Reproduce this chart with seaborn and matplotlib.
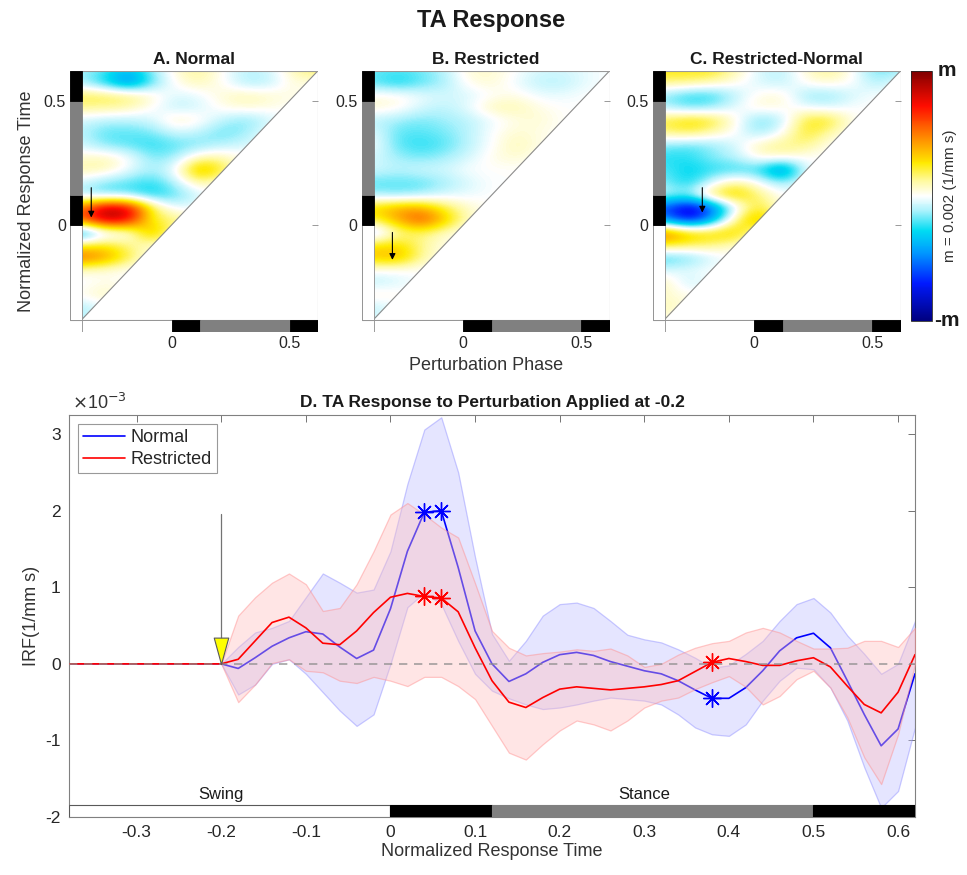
import numpy as np
import pandas as pd
import matplotlib
matplotlib.use("Agg")
import matplotlib.pyplot as plt
import seaborn as sns
from matplotlib.colors import LinearSegmentedColormap
from matplotlib.patches import Rectangle, Polygon
from matplotlib.path import Path
from matplotlib.markers import MarkerStyle
from matplotlib.lines import Line2D

# ---------------------------------------------------------------- data
TIME_START, TIME_END, TIME_STEP = -0.38, 0.62, 0.02
time = np.round(TIME_START + TIME_STEP * np.arange(51), 2)
PERTURBATION = -0.2
PRE = [0.0] * 10   # -0.38 ... -0.20 (before perturbation)

# IRF values in units of 1e-3 (1/mm s), from -0.18 to 0.62
normal_mean = PRE + [-0.06, 0.08, 0.23, 0.34, 0.42, 0.39, 0.22, 0.07, 0.18, 0.72,
                     1.47, 1.98, 2.00, 1.26, 0.43, 0.00, -0.23, -0.13, 0.02, 0.12,
                     0.15, 0.11, 0.03, -0.03, -0.09, -0.13, -0.22, -0.34, -0.45, -0.45,
                     -0.31, -0.09, 0.17, 0.34, 0.40, 0.21, -0.22, -0.66, -1.07, -0.85,
                     -0.13]
normal_upper = PRE + [0.22, 0.41, 0.47, 0.56, 0.87, 1.18, 1.06, 0.93, 0.97, 1.47,
                      2.35, 3.06, 3.22, 2.50, 1.39, 0.39, 0.04, 0.30, 0.63, 0.78,
                      0.80, 0.73, 0.56, 0.38, 0.32, 0.28, 0.19, 0.08, -0.05, -0.02,
                      0.13, 0.30, 0.56, 0.78, 0.86, 0.67, 0.37, 0.13, -0.13, 0.00,
                      0.56]
normal_lower = PRE + [-0.40, -0.27, 0.00, 0.06, -0.13, -0.37, -0.61, -0.81, -0.66, 0.00,
                      0.74, 0.93, 0.78, 0.30, -0.13, -0.35, -0.45, -0.53, -0.59, -0.57,
                      -0.53, -0.48, -0.44, -0.46, -0.48, -0.53, -0.66, -0.83, -0.92, -0.94,
                      -0.79, -0.48, -0.22, -0.05, -0.07, -0.31, -0.74, -1.35, -1.88, -1.66,
                      -0.83]
restricted_mean = PRE + [0.06, 0.30, 0.54, 0.61, 0.47, 0.27, 0.25, 0.43, 0.67, 0.87,
                         0.92, 0.88, 0.86, 0.68, 0.21, -0.22, -0.50, -0.57, -0.44, -0.33,
                         -0.30, -0.32, -0.34, -0.32, -0.30, -0.27, -0.22, -0.10, 0.02, 0.07,
                         0.03, -0.02, -0.02, 0.04, 0.08, -0.04, -0.29, -0.53, -0.64, -0.37,
                         0.12]
restricted_upper = PRE + [0.63, 0.87, 1.06, 1.18, 1.04, 0.69, 0.73, 1.04, 1.47, 1.95,
                          2.10, 1.95, 1.78, 1.65, 1.05, 0.43, 0.21, 0.11, 0.14, 0.16,
                          0.19, 0.17, 0.20, 0.11, -0.04, 0.00, 0.12, 0.21, 0.27, 0.30,
                          0.41, 0.47, 0.41, 0.30, 0.20, 0.20, 0.21, 0.30, 0.30, 0.22,
                          0.47]
restricted_lower = PRE + [-0.50, -0.27, 0.01, 0.06, -0.09, -0.11, -0.22, -0.25, -0.17, -0.22,
                          -0.29, -0.17, -0.17, -0.29, -0.46, -0.81, -1.16, -1.25, -1.05, -0.87,
                          -0.74, -0.79, -0.87, -0.74, -0.57, -0.48, -0.44, -0.33, -0.24, -0.16,
                          -0.30, -0.53, -0.42, -0.20, -0.09, -0.31, -0.70, -1.22, -1.57, -0.92,
                          0.00]
sig_times = [0.04, 0.06, 0.38]

conditions = ["Normal", "Restricted"]
cond_colors = {"Normal": (0.0, 0.0, 1.0), "Restricted": (1.0, 0.0, 0.0)}
band_face = {"Normal": (0.75, 0.75, 1.0), "Restricted": (1.0, 0.75, 0.75)}
band_edge = {"Normal": (0.55, 0.55, 1.0), "Restricted": (1.0, 0.55, 0.55)}

# gait phases (swing / stance)
phase_edges = [-0.38, 0.0, 0.12, 0.5, 0.62]
phase_colors = ["white", "black", "#808080", "black"]

x_ticks_D = [-0.3, -0.2, -0.1, 0.0, 0.1, 0.2, 0.3, 0.4, 0.5, 0.6]
x_ticklabels_D = ["-0.3", "-0.2", "-0.1", "0", "0.1", "0.2", "0.3", "0.4", "0.5", "0.6"]
y_ticks_D = [-2, -1, 0, 1, 2, 3]
y_ticklabels_D = ["-2", "-1", "0", "1", "2", "3"]

# heat-map grids (units of m = 0.002), columns = perturbation phase, rows = response time
heat_x = [-0.38, -0.28, -0.18, -0.08, 0.02, 0.12, 0.22, 0.32, 0.42, 0.52, 0.62]
heat_y = [0.62, 0.57, 0.52, 0.47, 0.42, 0.37, 0.32, 0.27, 0.22, 0.17, 0.12,
          0.07, 0.02, -0.03, -0.08, -0.13, -0.18, -0.23, -0.28, -0.33, -0.38]

grid_normal = [
    [-0.10, -0.20, -0.35, -0.13, 0.06, 0.13, 0.00, -0.10, -0.06, 0.10, 0.20],
    [-0.13, -0.30, -0.55, -0.20, 0.03, 0.10, 0.00, -0.13, -0.10, 0.06],
    [0.20, 0.20, 0.17, 0.06, -0.06, -0.03, 0.06, 0.10, 0.06, 0.03],
    [0.13, 0.13, 0.10, 0.00, -0.10, -0.06, 0.03, 0.06, 0.03],
    [-0.06, -0.10, -0.10, -0.06, 0.10, 0.03, -0.10, -0.17, -0.06],
    [-0.10, -0.20, -0.20, -0.17, -0.06, -0.10, -0.20, -0.13],
    [-0.06, -0.17, -0.20, -0.25, -0.20, -0.17, -0.10, -0.06],
    [0.06, 0.10, 0.00, -0.17, -0.13, 0.10, 0.10],
    [0.10, 0.10, -0.03, -0.13, 0.00, 0.45, 0.20],
    [-0.06, -0.17, -0.20, -0.25, -0.10, 0.13],
    [-0.13, -0.20, -0.20, -0.30, -0.20, -0.06],
    [0.50, 0.90, 0.83, 0.20, -0.06],
    [0.55, 0.90, 0.78, 0.17, 0.20],
    [-0.45, -0.10, -0.03, 0.45],
    [0.20, 0.25, 0.13, 0.06],
    [0.55, 0.45, 0.20],
    [0.06, 0.03, 0.00],
    [-0.03, 0.03],
    [0.03, 0.10],
    [-0.13, -0.03],
    [-0.10],
]
grid_restricted = [
    [-0.17, -0.20, -0.17, -0.10, 0.06, 0.06, 0.00, -0.06, -0.06, -0.03, 0.00],
    [-0.20, -0.30, -0.20, -0.13, 0.03, 0.06, -0.03, -0.10, -0.10, -0.03],
    [0.03, 0.03, -0.03, -0.06, -0.06, 0.00, 0.03, -0.03, -0.03, 0.00],
    [0.06, 0.03, -0.06, -0.10, -0.03, 0.10, 0.10, 0.03, 0.00],
    [-0.10, -0.13, -0.17, -0.13, -0.10, -0.03, 0.03, 0.06, 0.00],
    [-0.03, -0.20, -0.20, -0.17, -0.10, 0.00, 0.06, 0.03],
    [0.00, -0.20, -0.25, -0.20, -0.10, 0.00, 0.10, 0.03],
    [-0.06, -0.13, -0.17, -0.13, -0.06, 0.03, 0.06],
    [-0.06, -0.10, -0.06, -0.06, 0.00, 0.00, 0.00],
    [-0.20, -0.20, -0.20, -0.13, -0.06, 0.00],
    [-0.13, -0.17, -0.13, -0.06, -0.03, 0.00],
    [0.30, 0.40, 0.40, 0.20, 0.06],
    [0.20, 0.40, 0.62, 0.35, 0.06],
    [-0.20, 0.10, 0.17, 0.06],
    [0.25, 0.30, 0.13, 0.03],
    [0.35, 0.40, 0.13],
    [0.00, 0.00, 0.00],
    [-0.10, -0.06],
    [0.06, 0.03],
    [-0.10, -0.03],
    [-0.06],
]
grid_difference = [
    [0.25, 0.25, 0.25, 0.10, -0.06, -0.10, 0.06, 0.15, 0.00, -0.20, -0.13],
    [0.15, 0.15, 0.10, 0.03, -0.06, -0.10, 0.03, 0.06, 0.00, -0.13],
    [-0.15, -0.25, -0.25, -0.10, 0.03, 0.06, -0.15, -0.15, -0.06, 0.00],
    [-0.10, -0.20, -0.15, -0.03, 0.06, 0.03, -0.03, -0.06, 0.00],
    [0.20, 0.30, 0.25, 0.03, -0.20, -0.10, 0.25, 0.25, 0.00],
    [0.15, 0.20, 0.10, 0.00, -0.15, 0.00, 0.25, 0.10],
    [-0.15, -0.20, -0.15, -0.06, 0.10, 0.15, 0.15, 0.00],
    [-0.25, -0.25, -0.15, -0.10, 0.06, 0.06, 0.00],
    [-0.20, -0.30, -0.25, -0.25, -0.25, -0.60, 0.00],
    [-0.15, -0.30, -0.06, 0.15, 0.00, -0.15],
    [-0.06, -0.15, 0.25, 0.35, 0.15, 0.00],
    [-0.60, -0.88, -0.60, -0.06, 0.25],
    [-0.45, -0.80, -0.45, 0.15, 0.45],
    [0.55, 0.35, 0.30, 0.35],
    [0.25, 0.20, 0.15, 0.06],
    [-0.25, -0.20, -0.06],
    [-0.06, -0.03, 0.00],
    [0.10, -0.10],
    [0.06, 0.03],
    [0.10, 0.03],
    [0.03],
]
heat_titles = ["A. Normal", "B. Restricted", "C. Restricted-Normal"]
heat_arrows = [(-0.34, 0.15, 0.03), (-0.30, -0.03, -0.14), (-0.22, 0.15, 0.05)]
heat_ticks = [0.0, 0.5]
heat_ticklabels = ["0", "0.5"]

# ---------------------------------------------------------------- style
sns.set_theme(style="white")
plt.rcParams["font.family"] = ["Liberation Sans", "DejaVu Sans"]
plt.rcParams["axes.unicode_minus"] = False

cmap = LinearSegmentedColormap.from_list(
    "white_jet",
    [(0.0, (0.0, 0.0, 0.5)), (0.15, (0.0, 0.1, 1.0)), (0.27, (0.0, 0.6, 1.0)),
     (0.36, (0.0, 0.86, 0.95)), (0.44, (0.68, 0.95, 0.99)), (0.5, (1.0, 1.0, 1.0)),
     (0.56, (1.0, 0.98, 0.62)), (0.63, (1.0, 0.92, 0.0)),
     (0.73, (1.0, 0.55, 0.0)), (0.86, (1.0, 0.05, 0.0)), (1.0, (0.5, 0.0, 0.0))])

W, H = 967, 875
fig = plt.figure(figsize=(W / 100, H / 100), dpi=100)


def pad(rows):
    return np.array([r + [0.0] * (len(heat_x) - len(r)) for r in rows])


dx = heat_x[1] - heat_x[0]
dy = heat_y[0] - heat_y[1]
lo_lim = TIME_START - 0.05
bar_w = 0.05

frames_left = [70, 361.7, 652.7]
grids = [grid_normal, grid_restricted, grid_difference]
im = None
for i, (left, grid, title, arrow) in enumerate(zip(frames_left, grids, heat_titles, heat_arrows)):
    ax = fig.add_axes([left / W, 1 - 332 / H, 248 / W, 261.3 / H])
    ax.set_xlim(lo_lim, TIME_END)
    ax.set_ylim(lo_lim, TIME_END)
    for s in ax.spines.values():
        s.set_visible(False)
    im = ax.imshow(pad(grid), cmap=cmap, vmin=-1, vmax=1, interpolation="bicubic",
                   extent=[heat_x[0] - dx / 2, heat_x[-1] + dx / 2,
                           heat_y[-1] - dy / 2, heat_y[0] + dy / 2],
                   origin="upper", aspect="auto", zorder=1)
    tri = Polygon([(TIME_START, TIME_START), (TIME_START, TIME_END), (TIME_END, TIME_END)],
                  closed=True, transform=ax.transData)
    im.set_clip_path(tri)
    ax.plot([TIME_START, TIME_END], [TIME_START, TIME_END], color="0.55", lw=0.8, zorder=3)
    ax.add_patch(Rectangle((lo_lim, TIME_START), TIME_END - lo_lim, TIME_END - TIME_START,
                           fill=False, edgecolor="0.6", lw=0.8, zorder=4))
    # phase bars: left (response time) and bottom (perturbation phase)
    for a, b, c in zip(phase_edges[:-1], phase_edges[1:], phase_colors):
        ax.add_patch(Rectangle((lo_lim, a), bar_w, b - a, facecolor=c,
                               edgecolor="0.55" if c == "white" else c, lw=0.6, zorder=5))
        ax.add_patch(Rectangle((a, lo_lim), b - a, bar_w, facecolor=c,
                               edgecolor="0.55" if c == "white" else c, lw=0.6, zorder=5))
    ax.annotate("", xy=(arrow[0], arrow[2]), xytext=(arrow[0], arrow[1]),
                arrowprops=dict(arrowstyle="-|>", color="black", lw=0.8,
                                mutation_scale=9, shrinkA=0, shrinkB=0), zorder=6)
    ax.set_xticks(heat_ticks)
    ax.set_xticklabels(heat_ticklabels)
    ax.set_yticks(heat_ticks)
    ax.set_yticklabels(heat_ticklabels)
    ax.tick_params(bottom=False, left=False, top=True, right=True, direction="in",
                   length=4, width=0.7, color="0.6", labelsize=11.5, labelcolor="0.15", pad=3)
    ax.set_title(title, fontsize=12.5, fontweight="bold", pad=5, color="0.1")
    if i == 0:
        ax.set_ylabel("Normalized Response Time", fontsize=13, color="0.2", labelpad=6)
    if i == 1:
        ax.set_xlabel("Perturbation Phase", fontsize=13, color="0.2", labelpad=4)

cax = fig.add_axes([911 / W, 1 - 320.7 / H, 20.7 / W, 250 / H])
cb = fig.colorbar(im, cax=cax, ticks=[])
cb.outline.set_linewidth(0.6)
cax.text(1.3, 1.0, "m", transform=cax.transAxes, ha="left", va="center",
         fontsize=15, fontweight="bold", color="0.1")
cax.text(1.1, 0.0, "-m", transform=cax.transAxes, ha="left", va="center",
         fontsize=15, fontweight="bold", color="0.1")
cax.text(1.9, 0.5, "m = 0.002 (1/mm s)", transform=cax.transAxes, rotation=90,
         ha="center", va="center", fontsize=11, color="0.2")

fig.text(491 / W, 1 - 20 / H, "TA Response", ha="center", va="center",
         fontsize=17, fontweight="bold", color="0.1")

# ---------------------------------------------------------------- panel D
axD = fig.add_axes([69 / W, 1 - 817 / H, 846 / W, 402 / H])
df = pd.DataFrame({
    "time": np.concatenate([time, time]),
    "irf": normal_mean + restricted_mean,
    "condition": ["Normal"] * len(time) + ["Restricted"] * len(time),
})
bands = {"Normal": (normal_lower, normal_upper), "Restricted": (restricted_lower, restricted_upper)}
means = {"Normal": np.array(normal_mean), "Restricted": np.array(restricted_mean)}

z = 1
for cond in conditions:
    c = cond_colors[cond]
    lo, hi = bands[cond]
    axD.fill_between(time, lo, hi, facecolor=(*band_face[cond], 0.4),
                     edgecolor=(*band_edge[cond], 0.45), lw=0.9, zorder=z)
    sns.lineplot(data=df[df["condition"] == cond], x="time", y="irf", color=c, lw=1.2,
                 ax=axD, estimator=None, zorder=z + 1, legend=False)
    z += 2

mask = np.isin(time, sig_times)
for cond in conditions:
    axD.plot(time[mask], means[cond][mask], ls="none", marker=(8, 2, 0), ms=13, mew=1.0,
             color=cond_colors[cond], zorder=6)

axD.axhline(0, color="0.55", ls=(0, (5, 4)), lw=1.2, alpha=0.8, zorder=7)

# perturbation marker
axD.plot([PERTURBATION, PERTURBATION], [0, 1.96], color="0.45", lw=0.9, zorder=8)
tri_marker = MarkerStyle(Path([(-0.55, 2.0), (0.55, 2.0), (0.0, 0.0), (-0.55, 2.0)],
                              [Path.MOVETO, Path.LINETO, Path.LINETO, Path.CLOSEPOLY]))
axD.plot([PERTURBATION], [0], marker=tri_marker, ms=38, color="#ffff00", mec="0.35",
         mew=0.8, ls="none", zorder=9)

# phase bar
YMIN, YMAX = -2.0, 3.25
bar_top = -1.84
for a, b, c in zip(phase_edges[:-1], phase_edges[1:], phase_colors):
    axD.add_patch(Rectangle((a, YMIN), b - a, bar_top - YMIN, facecolor=c,
                            edgecolor="0.35" if c == "white" else c, lw=0.8, zorder=10))
axD.text(PERTURBATION, -1.80, "Swing", ha="center", va="bottom", fontsize=12, color="0.1")
axD.text(0.30, -1.80, "Stance", ha="center", va="bottom", fontsize=12, color="0.1")

axD.set_xlim(TIME_START, TIME_END)
axD.set_ylim(YMIN, YMAX)
axD.set_xticks(x_ticks_D)
axD.set_xticklabels(x_ticklabels_D)
axD.set_yticks(y_ticks_D)
axD.set_yticklabels(y_ticklabels_D)
axD.tick_params(direction="in", top=True, right=True, length=5, width=0.7, color="0.45",
                labelsize=12.5, labelcolor="0.15", pad=6)
for s in axD.spines.values():
    s.set_color("0.5")
    s.set_linewidth(0.8)
axD.set_xlabel("Normalized Response Time", fontsize=13, color="0.2", labelpad=2)
axD.set_ylabel("IRF(1/mm s)", fontsize=13, color="0.2", labelpad=4)
axD.set_title("D. TA Response to Perturbation Applied at -0.2", fontsize=12.5,
              fontweight="bold", pad=6, color="0.1")
axD.text(0.003, 1.006, r"$\times$10$^{-3}$", transform=axD.transAxes, ha="left", va="bottom",
         fontsize=13, color="0.2")

handles = [Line2D([], [], color=cond_colors[c], lw=1.2) for c in conditions]
leg = axD.legend(handles, conditions, loc="upper left", fontsize=13, frameon=True,
                 fancybox=False, edgecolor="0.5", handlelength=2.3, handletextpad=0.3,
                 borderpad=0.3, labelspacing=0.25, borderaxespad=0.5)
leg.get_frame().set_linewidth(0.8)

fig.savefig("out.png", dpi=100)
